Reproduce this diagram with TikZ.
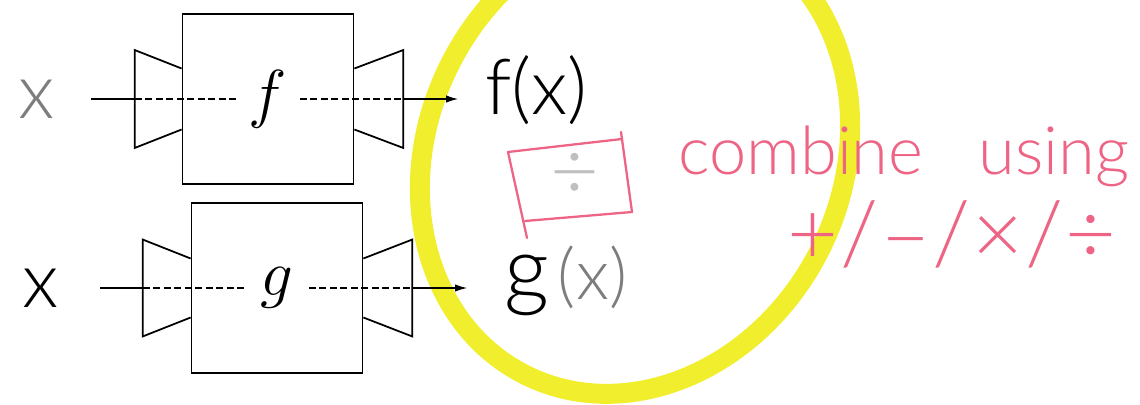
\RequirePackage{fix-cm}
\documentclass[tikz,border=0pt]{standalone}
\usepackage{fontspec}
\usepackage{tikz}
\usetikzlibrary{
    positioning,
    arrows.meta
}
\newfontfamily\handfont{Lato Light}
\definecolor{MarkerYellow}{RGB}{240,238,45}
\definecolor{MarkerPink}{RGB}{238,100,132}
\definecolor{PencilGrey}{RGB}{125,125,125}

\begin{document}
\begin{tikzpicture}[
    x=0.02cm, y=-0.02cm,
    machine/.style={rectangle, draw, line width=1pt, minimum width=3.42cm, minimum height=3.4cm, inner sep=0pt},
    fname/.style={inner sep=0pt, minimum width=1.26cm, font=\fontsize{37}{37}\selectfont},
    hand/.style={inner sep=0pt, font=\handfont\fontsize{#1}{#1}\selectfont},
    horn/.style={line width=1pt, line join=miter},
    axis/.style={line width=0.7pt},
    gap/.style={axis, dash pattern=on 1.4mm off 0.7mm},
    arrow/.style={axis, -{Latex[length=2.4mm, width=1.5mm]}},
    ring/.style={line width=0.4cm, color=MarkerYellow},
    ink/.style={line width=1.3pt, color=MarkerPink, line cap=round, line join=round}
]
\useasboundingbox (0,0) rectangle (1140,405);

% highlighter ring
\begin{scope}
\clip (0,0) rectangle (1140,405);
\draw[ring, rotate around={-27:(635,157)}] (635,157) ellipse [x radius=4.14cm, y radius=4.88cm];
\end{scope}

% machine f
\node[machine] (fbox) at (268,99) {};
\node[fname] (flabel) at (fbox.center) {$f$};
\draw[horn] ([yshift=0.61cm]fbox.west) -- ++(-0.94cm,0.37cm) -- ++(0,-1.96cm) -- ([yshift=-0.61cm]fbox.west);
\draw[horn] ([yshift=0.61cm]fbox.east) -- ++(0.98cm,0.37cm) -- ++(0,-1.96cm) -- ([yshift=-0.61cm]fbox.east);
\coordinate (fin) at ([xshift=-0.94cm]fbox.west);
\coordinate (fout) at ([xshift=0.98cm]fbox.east);
\node[hand=44, text=PencilGrey] (xf) at (37,99) {x};
\node[hand=44, anchor=base west] (fx) at (485,115) {f(x)};

\draw[axis, shorten <=0.72cm] (xf) -- (fin);
\draw[gap] (fin) -- (flabel);
\draw[gap] (flabel) -- (fout);
\draw[arrow, shorten >=0.54cm] (fout) -- (fout -| fx.west);

% machine g
\node[machine] (gbox) at (277,288) {};
\node[fname] (glabel) at (gbox.center) {$g$};
\draw[horn] ([yshift=0.59cm]gbox.west) -- ++(-0.96cm,0.38cm) -- ++(0,-1.94cm) -- ([yshift=-0.59cm]gbox.west);
\draw[horn] ([yshift=0.59cm]gbox.east) -- ++(0.98cm,0.38cm) -- ++(0,-1.94cm) -- ([yshift=-0.59cm]gbox.east);
\coordinate (gin) at ([xshift=-0.96cm]gbox.west);
\coordinate (gout) at ([xshift=0.98cm]gbox.east);
\node[hand=44] (xg) at (41,288) {x};
\node[hand=40, anchor=base west] (gx) at (504,300) {{\fontsize{50}{50}\selectfont g}\kern5pt\textcolor{PencilGrey}{(x)}};

\draw[axis, shorten <=0.82cm] (xg) -- (gin);
\draw[gap] (gin) -- (glabel);
\draw[gap] (glabel) -- (gout);
\draw[arrow, shorten >=0.74cm] (gout) -- (gout -| gx.west);

% pink note
\node[hand=48, text=gray!50] (divsign) at (575,177) {÷};
\draw[ink] (527,238) -- (508,152) -- (622,139);
\draw[ink] (621,132) -- (632,212) -- (525,221);
\node[hand=38, text=MarkerPink, anchor=base west] (combine) at (678,175) {combine\hspace{1.1cm}using};
\node[hand=50, text=MarkerPink, anchor=base west] (ops) at (787,265) {+\kern1pt/\kern1pt–\kern1pt/\kern1pt×\kern1pt/\kern1pt÷};
\end{tikzpicture}
\end{document}
